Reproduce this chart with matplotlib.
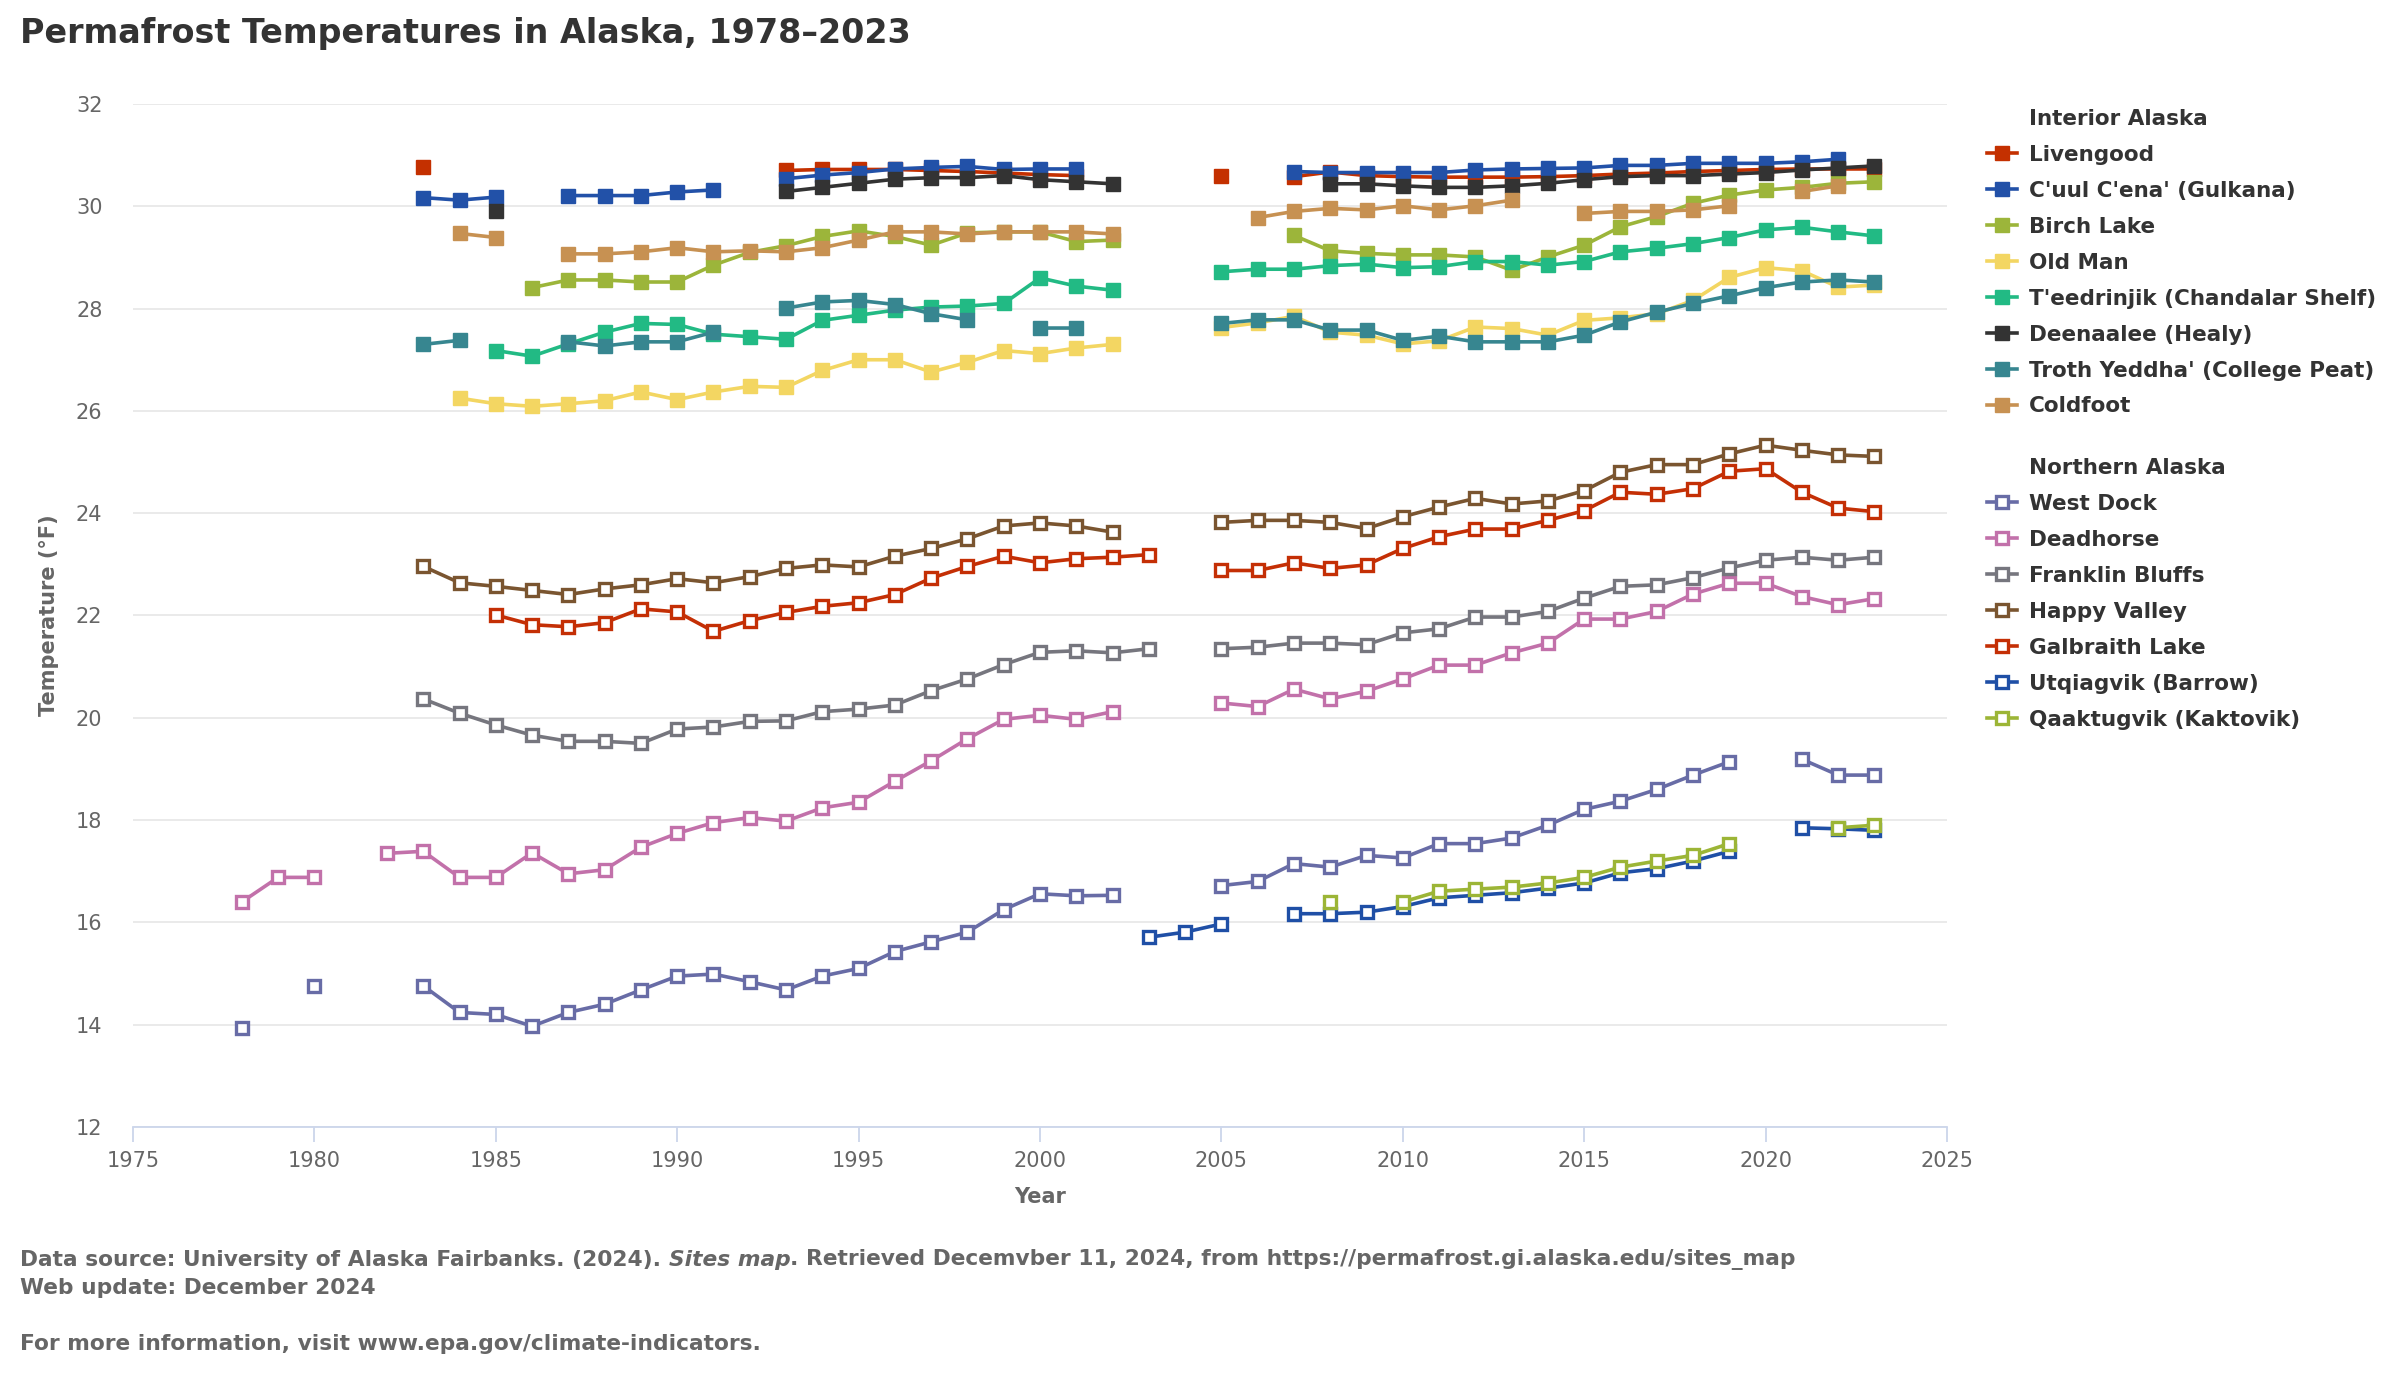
import numpy as np
import matplotlib
matplotlib.use('Agg')
import matplotlib.pyplot as plt
from matplotlib.lines import Line2D

N = np.nan
years = np.arange(1978, 2024)

# Interior Alaska (filled squares)
livengood = [N]*5 + [30.76] + [N]*9 + [30.70, 30.72, 30.72, 30.72, 30.70, 30.68, 30.65, 30.62, 30.60] + [N]*3 + \
    [30.60, N, 30.58, 30.67, 30.60, 30.58, 30.57, 30.57, 30.57, 30.58, 30.60, 30.63, 30.65, 30.68, 30.70, 30.72, 30.73, 30.73, 30.73]
gulkana = [N]*5 + [30.17, 30.12, 30.18, N, 30.21, 30.21, 30.21, 30.28, 30.32, N,
    30.54, 30.61, 30.66, 30.73, 30.76, 30.78, 30.72, 30.73, 30.73] + [N]*5 + \
    [30.68, 30.66, 30.66, 30.66, 30.66, 30.71, 30.73, 30.74, 30.75, 30.80, 30.80, 30.84, 30.84, 30.84, 30.87, 30.92, N]
birch_lake = [N]*8 + [28.41, 28.56, 28.56, 28.52, 28.52, 28.85, 29.10, 29.23, 29.41, 29.52, 29.41, 29.24, 29.48, 29.50, 29.50, 29.31, 29.34] + [N]*4 + \
    [29.43, 29.13, 29.08, 29.05, 29.05, 29.01, 28.75, 29.01, 29.24, 29.60, 29.80, 30.06, 30.22, 30.32, 30.37, 30.45, 30.48]
old_man = [N]*6 + [26.25, 26.14, 26.09, 26.14, 26.20, 26.37, 26.22, 26.37, 26.48, 26.46, 26.79, 27.00, 27.00, 26.76, 26.95, 27.18, 27.12, 27.23, 27.30, N, N,
    27.63, 27.72, 27.85, 27.54, 27.48, 27.31, 27.37, 27.64, 27.61, 27.48, 27.77, 27.82, 27.90, 28.16, 28.61, 28.80, 28.74, 28.42, 28.46]
teedrinjik = [N]*7 + [27.18, 27.07, 27.31, 27.54, 27.71, 27.69, 27.50, 27.45, 27.40, 27.77, 27.87, 27.97, 28.03, 28.05, 28.10, 28.60, 28.44, 28.36, N, N,
    28.72, 28.77, 28.77, 28.84, 28.87, 28.80, 28.82, 28.92, 28.92, 28.85, 28.92, 29.11, 29.18, 29.27, 29.39, 29.54, 29.59, 29.50, 29.42]
deenaalee = [N]*7 + [29.90] + [N]*7 + [30.29, 30.37, 30.45, 30.53, 30.56, 30.56, 30.60, 30.52, 30.48, 30.44] + [N]*5 + \
    [30.44, 30.44, 30.40, 30.37, 30.37, 30.40, 30.45, 30.52, 30.58, 30.60, 30.60, 30.63, 30.66, 30.71, 30.75, 30.79]
troth_yeddha = [N]*5 + [27.30, 27.38, N, N, 27.35, 27.27, 27.35, 27.35, 27.54, N, 28.01, 28.13, 28.16, 28.08, 27.90, 27.78, N, 27.62, 27.62, N, N, N,
    27.71, 27.78, 27.78, 27.58, 27.58, 27.38, 27.46, 27.35, 27.35, 27.35, 27.48, 27.74, 27.93, 28.10, 28.25, 28.41, 28.52, 28.56, 28.52]
coldfoot = [N]*6 + [29.47, 29.39, N, 29.07, 29.07, 29.11, 29.19, 29.11, 29.13, 29.11, 29.19, 29.34, 29.50, 29.50, 29.46, 29.50, 29.50, 29.50, 29.46, N, N, N,
    29.78, 29.90, 29.96, 29.93, 30.01, 29.93, 30.01, 30.12, N, 29.86, 29.90, 29.90, 29.93, 30.01, N, 30.29, 30.40, N]

# Northern Alaska (open squares)
west_dock = [13.93, N, 14.76, N, N, 14.76, 14.24, 14.20, 13.97, 14.24, 14.40, 14.68, 14.95, 14.99, 14.84, 14.68, 14.95, 15.10, 15.43, 15.62, 15.81, 16.25,
    16.56, 16.52, 16.53, N, N, 16.72, 16.80, 17.15, 17.08, 17.31, 17.26, 17.54, 17.54, 17.65, 17.90, 18.21, 18.37, 18.60, 18.88, 19.14, N, 19.19, 18.88, 18.88]
deadhorse = [16.40, 16.88, 16.88, N, 17.35, 17.39, 16.88, 16.88, 17.36, 16.95, 17.03, 17.47, 17.74, 17.95, 18.05, 17.98, 18.24, 18.35, 18.76, 19.16, 19.59,
    19.97, 20.05, 19.97, 20.12, N, N, 20.29, 20.22, 20.56, 20.37, 20.52, 20.76, 21.03, 21.03, 21.27, 21.46, 21.93, 21.93, 22.08, 22.42, 22.63, 22.63, 22.37, 22.21, 22.33]
franklin_bluffs = [N]*5 + [20.37, 20.09, 19.86, 19.66, 19.54, 19.54, 19.50, 19.78, 19.82, 19.93, 19.94, 20.12, 20.17, 20.25, 20.53, 20.76, 21.04, 21.28, 21.31,
    21.27, 21.35, N, 21.35, 21.38, 21.46, 21.46, 21.43, 21.66, 21.74, 21.97, 21.97, 22.08, 22.34, 22.57, 22.60, 22.74, 22.93, 23.08, 23.14, 23.08, 23.14]
happy_valley = [N]*5 + [22.96, 22.64, 22.57, 22.49, 22.41, 22.52, 22.60, 22.72, 22.64, 22.76, 22.92, 22.99, 22.95, 23.16, 23.31, 23.50, 23.75, 23.81, 23.75,
    23.63, N, N, 23.82, 23.86, 23.86, 23.82, 23.70, 23.93, 24.12, 24.29, 24.18, 24.24, 24.44, 24.80, 24.95, 24.95, 25.16, 25.33, 25.23, 25.14, 25.11]
galbraith_lake = [N]*7 + [22.01, 21.82, 21.78, 21.86, 22.13, 22.07, 21.69, 21.90, 22.06, 22.18, 22.25, 22.41, 22.73, 22.96, 23.16, 23.03, 23.11, 23.14,
    23.19, N, 22.88, 22.88, 23.03, 22.92, 22.99, 23.31, 23.54, 23.69, 23.69, 23.86, 24.05, 24.41, 24.37, 24.48, 24.82, 24.87, 24.41, 24.10, 24.03]
utqiagvik = [N]*25 + [15.71, 15.81, 15.97, N, 16.17, 16.17, 16.20, 16.31, 16.48, 16.53, 16.58, 16.67, 16.77, 16.97, 17.05, 17.20, 17.39, N, 17.85, 17.83, 17.80]
qaaktugvik = [N]*30 + [16.40, N, 16.40, 16.61, 16.65, 16.69, 16.77, 16.88, 17.08, 17.20, 17.31, 17.54, N, N, 17.85, 17.90]

interior_names = ["Livengood", "C'uul C'ena' (Gulkana)", "Birch Lake", "Old Man", "T'eedrinjik (Chandalar Shelf)",
                  "Deenaalee (Healy)", "Troth Yeddha' (College Peat)", "Coldfoot"]
interior_data = [livengood, gulkana, birch_lake, old_man, teedrinjik, deenaalee, troth_yeddha, coldfoot]
interior_colors = ['#C43000', '#2251A8', '#9CB53A', '#F3D662', '#22BA84', '#333333', '#378690', '#C79152']

northern_names = ["West Dock", "Deadhorse", "Franklin Bluffs", "Happy Valley", "Galbraith Lake",
                  "Utqiagvik (Barrow)", "Qaaktugvik (Kaktovik)"]
northern_data = [west_dock, deadhorse, franklin_bluffs, happy_valley, galbraith_lake, utqiagvik, qaaktugvik]
northern_colors = ['#686CA6', '#C271AA', '#76767E', '#7A5530', '#C42F05', '#1F4FA6', '#9CB536']

W, H = 2400, 1388
fig = plt.figure(figsize=(W/100, H/100), dpi=100)
ax = fig.add_axes([133/W, 1-1127/H, (1947-133)/W, (1127-104)/H])

txt = '#666666'
ih, nh = [], []
for name, vals, c in zip(interior_names, interior_data, interior_colors):
    l, = ax.plot(years, np.array(vals, dtype=float), color=c, lw=2.6, marker='s', ms=10,
                 mfc=c, mec=c, label=name, zorder=3)
    ih.append(l)
for name, vals, c in zip(northern_names, northern_data, northern_colors):
    l, = ax.plot(years, np.array(vals, dtype=float), color=c, lw=2.6, marker='s', ms=9,
                 mfc='white', mec=c, mew=2.4, label=name, zorder=3)
    nh.append(l)

ax.set_xlim(1975, 2025)
ax.set_ylim(12, 32)
ax.set_xticks(np.arange(1975, 2026, 5))
ax.set_yticks(np.arange(12, 33, 2))
ax.grid(axis='y', color='#e6e6e6', lw=1.2, zorder=0)
for s in ['left', 'right', 'top']:
    ax.spines[s].set_visible(False)
ax.spines['bottom'].set_color('#ccd6eb')
ax.spines['bottom'].set_linewidth(1.3)
ax.tick_params(axis='x', length=11, width=1.3, color='#ccd6eb', labelsize=15, labelcolor=txt, pad=6)
ax.tick_params(axis='y', length=0, labelsize=15, labelcolor=txt, pad=22)
ax.set_xlabel('Year', fontsize=15, fontweight='bold', color=txt, labelpad=12)
ax.set_ylabel('Temperature (°F)', fontsize=15, fontweight='bold', color=txt, labelpad=12)

# legends with group headers
blank = Line2D([], [], linestyle='none')
leg_kw = dict(loc='upper left', frameon=False, borderpad=0, borderaxespad=0, handlelength=1.4,
              handletextpad=0.55, labelspacing=0.74, prop={'size': 15.5, 'weight': 'bold'})
leg1 = fig.legend([blank] + ih, ['Interior Alaska'] + interior_names,
                  bbox_to_anchor=(1987/W, 1-109/H), **leg_kw)
leg2 = fig.legend([blank] + nh, ['Northern Alaska'] + northern_names,
                  bbox_to_anchor=(1987/W, 1-458/H), **leg_kw)
for lg in (leg1, leg2):
    for t in lg.get_texts():
        t.set_color('#333333')

fig.text(20/W, 1-34/H, 'Permafrost Temperatures in Alaska, 1978\u20132023', fontsize=24,
         fontweight='bold', color='#333333', va='center')

# footer with italic piece
fs = 15.7
parts = [('Data source: University of Alaska Fairbanks. (2024). ', 'normal'),
         ('Sites map', 'italic'),
         ('. Retrieved Decemvber 11, 2024, from https://permafrost.gi.alaska.edu/sites_map', 'normal')]
fig.canvas.draw()
r = fig.canvas.get_renderer()
x0 = 20
for s, st in parts:
    t = fig.text(x0/W, 1-1260/H, s, fontsize=fs, fontweight='bold', style=st, color=txt, va='center')
    x0 += t.get_window_extent(renderer=r).width
fig.text(20/W, 1-1288/H, 'Web update: December 2024', fontsize=fs, fontweight='bold', color=txt, va='center')
fig.text(20/W, 1-1344/H, 'For more information, visit www.epa.gov/climate-indicators.', fontsize=fs,
         fontweight='bold', color=txt, va='center')

fig.savefig('out.png', dpi=100)
